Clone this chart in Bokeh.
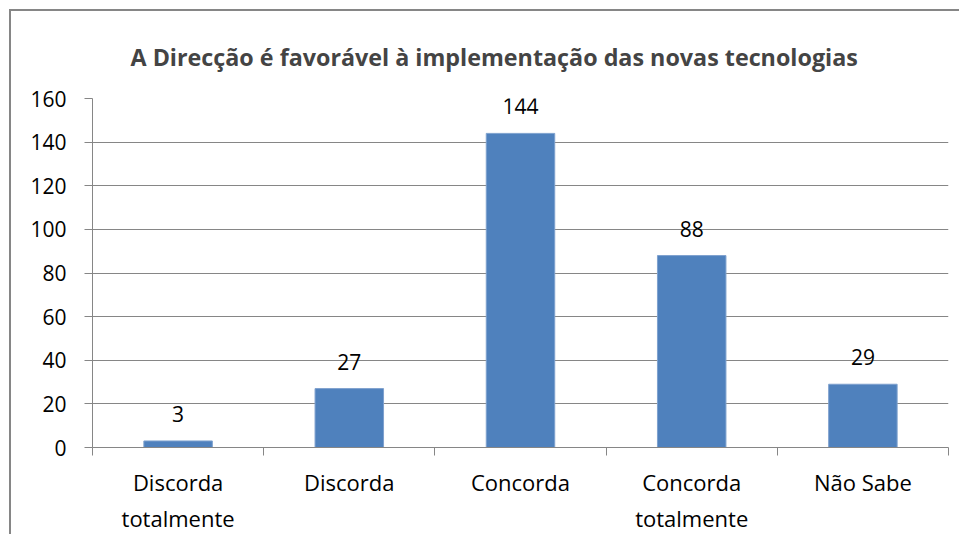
from bokeh.plotting import figure
from bokeh.models import ColumnDataSource, Range1d, LinearAxis, FixedTicker
from bokeh.core.properties import value
from bokeh.embed import file_html
from bokeh.resources import INLINE

categories = ["Discorda totalmente", "Discorda", "Concorda", "Concorda totalmente", "Não Sabe"]
tick_labels = ["Discorda\ntotalmente", "Discorda", "Concorda", "Concorda\ntotalmente", "Não Sabe"]
counts = [3, 27, 144, 88, 29]
y_ticks = [0, 20, 40, 60, 80, 100, 120, 140, 160]
title_text = "A Direcção é favorável à implementação das novas tecnologias"

FONT = "Open Sans"
GRAY = "#868686"

n_cat = len(categories)
pos = [i + 0.5 for i in range(n_cat)]
src = ColumnDataSource(dict(x=pos, cat=categories, n=counts, lbl=[str(v) for v in counts]))

p = figure(width=950, height=525, x_range=Range1d(0, n_cat), y_range=Range1d(0, 160),
           output_backend="svg", toolbar_location=None, x_axis_location=None,
           min_border_left=81, min_border_right=13, min_border_top=87, min_border_bottom=89)
p.styles = {"margin-left": "9px", "margin-top": "9px",
            "border-left": "2px solid #868686", "border-top": "2px solid #868686"}
p.outline_line_color = None
p.background_fill_color = "white"
p.border_fill_color = "white"

p.title.text = title_text
p.title.text_font = FONT
p.title.text_font_size = "23.3px"
p.title.text_font_style = "bold"
p.title.align = "left"
p.title.offset = 38
p.title.standoff = 52

p.vbar(x="x", top="n", width=0.4, source=src, fill_color="#4F81BD", line_color="#7EA1CE", line_width=1)
p.text(x="x", y="n", text="lbl", source=src, text_align="center", text_baseline="middle",
       y_offset=-27, text_font=value(FONT), text_font_size="21px", text_color="black")

# y axis
ya = p.yaxis[0]
ya.ticker = FixedTicker(ticks=y_ticks)
ya.axis_line_color = GRAY
ya.major_tick_line_color = GRAY
ya.major_tick_out = 8
ya.major_tick_in = 0
ya.minor_tick_line_color = None
ya.major_label_text_font = FONT
ya.major_label_text_font_size = "21px"
ya.major_label_text_color = "black"
ya.major_label_standoff = 18

p.ygrid.ticker = FixedTicker(ticks=y_ticks)
p.ygrid.grid_line_color = GRAY
p.ygrid.grid_line_width = 1
p.xgrid.grid_line_color = None

# boundary ticks on x
bounds = list(range(n_cat + 1))
ta = LinearAxis(ticker=FixedTicker(ticks=bounds))
ta.major_label_overrides = {b: "" for b in bounds}
ta.axis_line_color = GRAY
ta.major_tick_line_color = GRAY
ta.major_tick_out = 8
ta.major_tick_in = 0
ta.minor_tick_line_color = None
ta.major_label_standoff = 0
ta.major_label_text_font_size = "1px"
p.add_layout(ta, "below")

# category labels
ca = LinearAxis(ticker=FixedTicker(ticks=pos))
ca.major_label_overrides = {x: t for x, t in zip(pos, tick_labels)}
ca.axis_line_color = None
ca.major_tick_line_color = None
ca.minor_tick_line_color = None
ca.major_tick_out = 0
ca.major_tick_in = 0
ca.major_label_text_font = FONT
ca.major_label_text_font_size = "22px"
ca.major_label_text_color = "black"
ca.major_label_standoff = 11
p.add_layout(ca, "below")

open("out.html", "w").write(file_html(p, INLINE))
